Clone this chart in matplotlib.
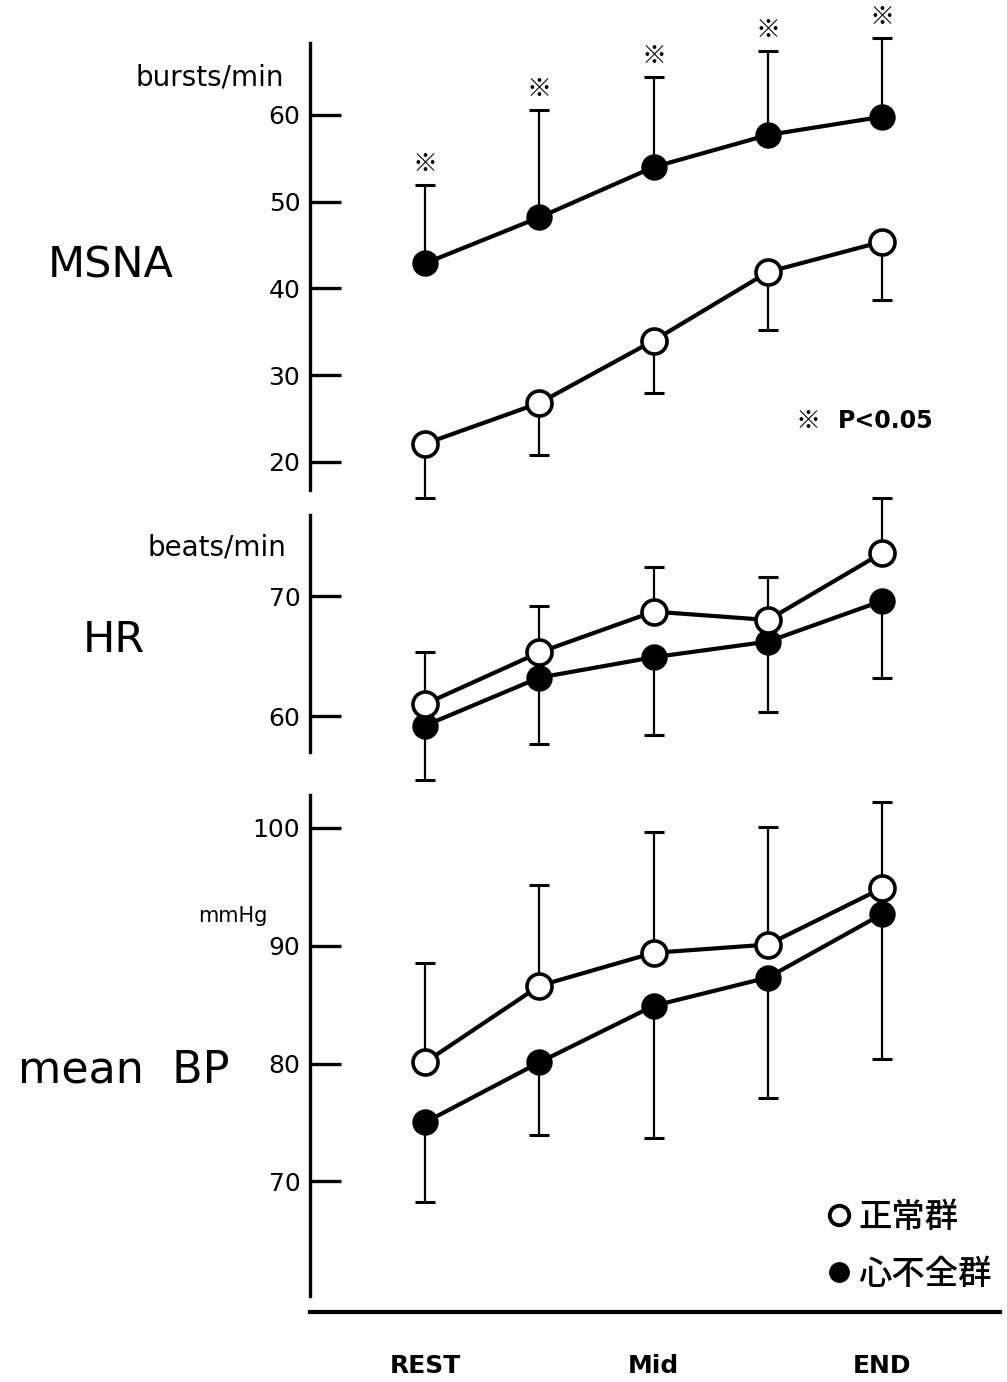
import numpy as np
import matplotlib
matplotlib.use("Agg")
import matplotlib.pyplot as plt
from matplotlib.lines import Line2D

# x categories (only REST / Mid / END are labelled)
phases = ["REST", "", "Mid", "", "END"]
x = np.arange(len(phases))

# MSNA, bursts/min
msna_normal = [22.1, 26.8, 34.0, 41.9, 45.4]
msna_normal_sd = [6.2, 6.0, 6.1, 6.7, 6.7]      # drawn downward
msna_hf = [42.9, 48.2, 54.0, 57.7, 59.8]
msna_hf_sd = [9.0, 12.4, 10.4, 9.7, 9.1]        # drawn upward
msna_sig = [True, True, True, True, True]

# HR, beats/min
hr_normal = [61.0, 65.3, 68.7, 68.0, 73.6]
hr_normal_sd = [4.3, 3.9, 3.7, 3.6, 4.6]        # upward
hr_hf = [59.2, 63.2, 64.9, 66.2, 69.6]
hr_hf_sd = [4.5, 5.5, 6.5, 5.9, 6.4]            # downward

# mean BP, mmHg
bp_normal = [80.1, 86.6, 89.4, 90.1, 94.9]
bp_normal_sd = [8.4, 8.6, 10.3, 10.0, 7.3]      # upward
bp_hf = [75.0, 80.1, 84.9, 87.3, 92.7]
bp_hf_sd = [6.8, 6.2, 11.2, 10.2, 12.3]         # downward

legend_labels = ["正常群", "心不全群"]

CJK = ["Noto Sans CJK JP", "DejaVu Sans"]
W, H = 1007, 1382
fig = plt.figure(figsize=(W / 100, H / 100), dpi=100)
zeros = np.zeros(len(x))


def add_panel(top, bottom, ylim, yticks):
    ax = fig.add_axes([310 / W, 1 - bottom / H, 690 / W, (bottom - top) / H])
    ax.set_xlim(-1.007, 5.03)
    ax.set_ylim(*ylim)
    for s in ["top", "right", "bottom"]:
        ax.spines[s].set_visible(False)
    ax.spines["left"].set_linewidth(2.4)
    ax.set_yticks(yticks)
    ax.tick_params(axis="y", direction="in", length=22, width=2.4, pad=7, labelsize=18)
    ax.tick_params(axis="x", bottom=False, labelbottom=False)
    ax.patch.set_alpha(0)
    return ax


def draw(ax, normal, normal_err, hf, hf_err):
    for mean, err in [(hf, hf_err), (normal, normal_err)]:
        eb = ax.errorbar(x, mean, yerr=err, fmt="none", ecolor="black",
                         elinewidth=1.6, capsize=7, capthick=2.2, zorder=2)
        for a in eb.get_children():
            a.set_clip_on(False)
    ax.plot(x, hf, "-o", color="black", lw=3, ms=18, mfc="black", mec="black",
            zorder=3, clip_on=False)
    ax.plot(x, normal, "-o", color="black", lw=3, ms=18, mfc="white", mec="black",
            mew=2.6, zorder=4, clip_on=False)


# MSNA
ax1 = add_panel(43, 490, (16.77, 68.3), [20, 30, 40, 50, 60])
draw(ax1, msna_normal, [msna_normal_sd, zeros], msna_hf, [zeros, msna_hf_sd])
for xi, m, s, sig in zip(x, msna_hf, msna_hf_sd, msna_sig):
    if sig:
        ax1.annotate("※", xy=(xi, m + s), xytext=(0, 15), textcoords="offset points",
                     ha="center", va="center", fontsize=18, fontweight="bold",
                     family=CJK, annotation_clip=False)

# HR
ax2 = add_panel(515, 752, (57.0, 76.75), [60, 70])
draw(ax2, hr_normal, [zeros, hr_normal_sd], hr_hf, [hr_hf_sd, zeros])

# mean BP
ax3 = add_panel(795, 1312, (58.9, 102.8), [70, 80, 90, 100])
draw(ax3, bp_normal, [zeros, bp_normal_sd], bp_hf, [bp_hf_sd, zeros])
ax3.spines["left"].set_bounds(60.3, 102.8)
ax3.spines["bottom"].set_visible(True)
ax3.spines["bottom"].set_linewidth(3)
ax3.set_xticks(x, phases)
ax3.tick_params(axis="x", bottom=True, labelbottom=True, length=0, pad=30,
                labelsize=18)
for t in ax3.get_xticklabels():
    t.set_fontweight("bold")

# panel titles and units
fig.text(48 / W, 1 - 265 / H, "MSNA", fontsize=31, ha="left", va="center")
fig.text(83 / W, 1 - 640 / H, "HR", fontsize=31, ha="left", va="center")
fig.text(18 / W, 1 - 1070 / H, "mean  BP", fontsize=32, ha="left", va="center")
fig.text(284 / W, 1 - 78 / H, "bursts/min", fontsize=20, ha="right", va="center")
fig.text(286 / W, 1 - 548 / H, "beats/min", fontsize=20, ha="right", va="center")
fig.text(268 / W, 1 - 916 / H, "mmHg", fontsize=15, ha="right", va="center")
fig.text(808 / W, 1 - 421 / H, "※", fontsize=18, fontweight="bold",
         ha="center", va="center", family=CJK)
fig.text(838 / W, 1 - 421 / H, "P<0.05", fontsize=17, fontweight="bold",
         ha="left", va="center")

handles = [
    Line2D([], [], ls="none", marker="o", ms=14, mfc="white", mec="black", mew=2.8),
    Line2D([], [], ls="none", marker="o", ms=14, mfc="black", mec="black"),
]
fig.legend(handles, legend_labels, loc="center left",
           bbox_to_anchor=(812 / W, 1 - 1246 / H), frameon=False,
           prop={"family": CJK, "size": 24, "weight": "medium"}, handlelength=0.6,
           handletextpad=0.3, labelspacing=0.65, borderpad=0)

fig.savefig("out.png", dpi=100)
